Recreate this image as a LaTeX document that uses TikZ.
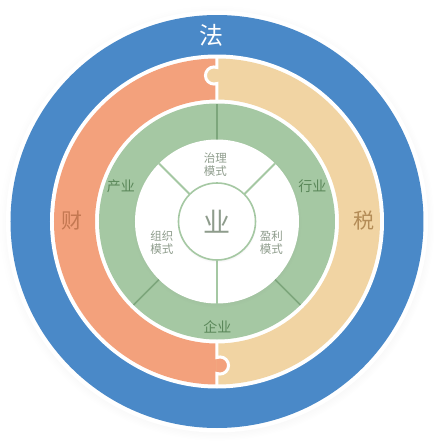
\documentclass[tikz,border=0pt]{standalone}
\usepackage{fontspec}
\newfontfamily\cjk{Noto Sans CJK SC}
\usetikzlibrary{shadows}

\definecolor{fablue}{HTML}{4A89C8}
\definecolor{caiorange}{HTML}{F3A17C}
\definecolor{shuibeige}{HTML}{F1D4A3}
\definecolor{yegreen}{HTML}{A5C8A3}
\definecolor{linegreen}{HTML}{7DA67C}
\definecolor{textgreen}{HTML}{5A8759}
\definecolor{textcai}{HTML}{C47852}
\definecolor{textshui}{HTML}{B48C57}
\definecolor{textgray}{HTML}{8E9C8C}

\tikzset{
    biglabel/.style={font=\cjk\fontsize{21}{21}\selectfont, inner sep=0pt},
    yelabel/.style={font=\cjk\fontsize{14}{14}\selectfont, text=textgreen, inner sep=0pt},
    modelabel/.style={font=\cjk\fontsize{11.5}{13}\selectfont, text=textgray, align=center, inner sep=0pt},
    divline/.style={linegreen, line width=1.6pt},
    innerline/.style={yegreen, line width=1.8pt},
    hub/.style={circle, draw=yegreen, line width=1.6pt, fill=white, minimum size=77pt, inner sep=0pt},
    soft/.style={circular drop shadow={shadow xshift=0pt, shadow yshift=-1.5pt, shadow scale=1.03, opacity=0.18}},
}

\begin{document}
\begin{tikzpicture}[x=1pt, y=1pt]
    \useasboundingbox (-217,-226.5) rectangle (218,221.5);

    % outer ring
    \fill[white, soft] (0,0) circle (211);
    \fill[fablue] (0,0) circle (206.5);
    \fill[white] (0,0) circle (167);

    % puzzle ring
    \fill[caiorange] (0,163) arc[start angle=90, end angle=270, radius=163]
        -- (0,-122) arc[start angle=270, end angle=90, radius=122] -- cycle;
    \fill[shuibeige] (0,-163) arc[start angle=-90, end angle=90, radius=163]
        -- (0,122) arc[start angle=90, end angle=-90, radius=122] -- cycle;
    \fill[shuibeige] (0,154) arc[start angle=69.4, end angle=290.6, radius=8.54] -- cycle;
    \fill[caiorange] (0,-136) arc[start angle=110.6, end angle=-110.6, radius=8.54] -- cycle;
    \draw[white, line width=3pt] (0,164) -- (0,154)
        arc[start angle=69.4, end angle=290.6, radius=8.54] -- (0,121);
    \draw[white, line width=3pt] (0,-121) -- (0,-136)
        arc[start angle=110.6, end angle=-110.6, radius=8.54] -- (0,-164);

    % green ring and white disk
    \fill[yegreen] (0,0) circle (118);
    \foreach \a in {90,-45,-135}
        \draw[divline] (\a:80) -- (\a:118);
    \fill[white, soft] (0,0) circle (82);
    \foreach \a in {45,135,270}
        \draw[innerline] (\a:38) -- (\a:82);
    \node[hub, soft, font=\cjk\fontsize{27}{27}\selectfont, text=textgray] (ye) at (0,0) {业};

    % labels
    \node[biglabel, text=white, font=\cjk\fontsize{24}{24}\selectfont] (fa) at (-5,186.5) {法};
    \node[biglabel, text=textcai] (cai) at (-145,1) {财};
    \node[biglabel, text=textshui] (shui) at (147,0.5) {税};
    \node[yelabel] (chanye) at (-96,35) {产业};
    \node[yelabel] (hangye) at (95.5,35) {行业};
    \node[yelabel] (qiye) at (0.5,-105) {企业};
    \node[modelabel] (zhili) at (-1.5,56.5) {治理\\模式};
    \node[modelabel] (zuzhi) at (-55,-21) {组织\\模式};
    \node[modelabel] (yingli) at (54.5,-21) {盈利\\模式};
\end{tikzpicture}
\end{document}
